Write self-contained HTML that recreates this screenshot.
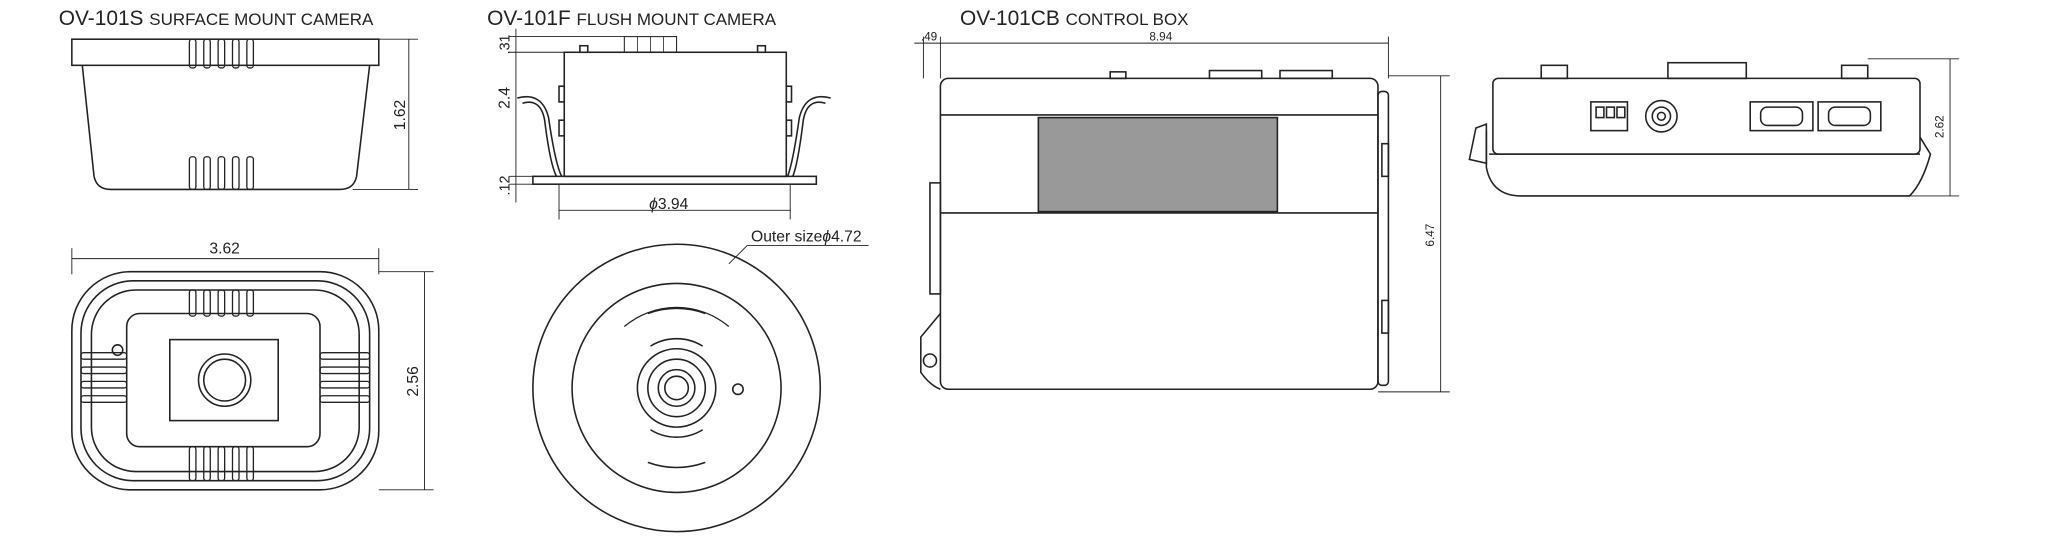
<!DOCTYPE html>
<html><head><meta charset="utf-8"><style>
html,body{margin:0;padding:0;background:#fff;}
svg{display:block;}
text{font-family:"Liberation Sans",sans-serif;fill:#222;}
</style></head><body>
<svg width="2048" height="546" viewBox="0 0 1568 418" xmlns="http://www.w3.org/2000/svg" fill="none" stroke="#222" stroke-width="1.2">
<!-- titles -->
<text x="45" y="19" font-size="16" stroke="none">OV-101S <tspan font-size="13">SURFACE MOUNT CAMERA</tspan></text>
<text x="373" y="19" font-size="16" stroke="none">OV-101F <tspan font-size="13">FLUSH MOUNT CAMERA</tspan></text>
<text x="735" y="19" font-size="16" stroke="none">OV-101CB <tspan font-size="13">CONTROL BOX</tspan></text>

<!-- Surface side view -->
<rect x="55" y="30" width="235" height="20"/>
<path d="M63 50 L72 135 Q74 145 85 145 L260 145 Q271 145 273 135 L283 50"/>
<g stroke-width="1">
<rect x="145" y="30" width="5" height="22" rx="2"/><rect x="156" y="30" width="5" height="22" rx="2"/><rect x="167" y="30" width="5" height="22" rx="2"/><rect x="178" y="30" width="5" height="22" rx="2"/><rect x="189" y="30" width="5" height="22" rx="2"/>
<rect x="145" y="120" width="5" height="25" rx="2"/><rect x="156" y="120" width="5" height="25" rx="2"/><rect x="167" y="120" width="5" height="25" rx="2"/><rect x="178" y="120" width="5" height="25" rx="2"/><rect x="189" y="120" width="5" height="25" rx="2"/>
</g>
<g stroke-width="0.7">
<line x1="290" y1="30" x2="320" y2="30"/><line x1="270" y1="145" x2="320" y2="145"/><line x1="313" y1="30" x2="313" y2="145"/>
</g>
<text x="310" y="88" font-size="12" stroke="none" transform="rotate(-90 310 88)" text-anchor="middle">1.62</text>

<!-- Surface bottom view -->
<g stroke-width="0.7">
<line x1="55" y1="198" x2="290" y2="198"/><line x1="55" y1="190" x2="55" y2="210"/><line x1="290" y1="190" x2="290" y2="210"/>
<line x1="290" y1="208" x2="332" y2="208"/><line x1="290" y1="375" x2="332" y2="375"/><line x1="325" y1="208" x2="325" y2="375"/>
</g>
<text x="172" y="194" font-size="12" stroke="none" text-anchor="middle">3.62</text>
<text x="320" y="292" font-size="12" stroke="none" transform="rotate(-90 320 292)" text-anchor="middle">2.56</text>
<rect x="55" y="208" width="235" height="167" rx="45"/>
<rect x="62" y="215" width="221" height="153" rx="40"/>
<rect x="70" y="222" width="205" height="139" rx="34"/>
<rect x="97" y="240" width="148" height="102" rx="10"/>
<rect x="130" y="260" width="83" height="62"/>
<circle cx="172" cy="291" r="20"/><circle cx="172" cy="291" r="16"/>
<circle cx="90" cy="268" r="4"/>
<g stroke-width="1">
<rect x="145" y="222" width="5" height="20" rx="2"/><rect x="156" y="222" width="5" height="20" rx="2"/><rect x="167" y="222" width="5" height="20" rx="2"/><rect x="178" y="222" width="5" height="20" rx="2"/><rect x="189" y="222" width="5" height="20" rx="2"/>
<rect x="145" y="342" width="5" height="26" rx="2"/><rect x="156" y="342" width="5" height="26" rx="2"/><rect x="167" y="342" width="5" height="26" rx="2"/><rect x="178" y="342" width="5" height="26" rx="2"/><rect x="189" y="342" width="5" height="26" rx="2"/>
<rect x="62" y="270" width="35" height="5" rx="2"/><rect x="62" y="281" width="35" height="5" rx="2"/><rect x="62" y="292" width="35" height="5" rx="2"/><rect x="62" y="303" width="35" height="5" rx="2"/>
<rect x="245" y="270" width="38" height="5" rx="2"/><rect x="245" y="281" width="38" height="5" rx="2"/><rect x="245" y="292" width="38" height="5" rx="2"/><rect x="245" y="303" width="38" height="5" rx="2"/>
</g>

<!-- Flush side view -->
<rect x="432" y="40" width="170" height="95"/>
<rect x="408" y="135" width="217" height="6"/>
<rect x="478" y="28" width="40" height="12" stroke-width="0.8"/>
<line x1="488" y1="28" x2="488" y2="40" stroke-width="0.6"/><line x1="498" y1="28" x2="498" y2="40" stroke-width="0.6"/><line x1="508" y1="28" x2="508" y2="40" stroke-width="0.6"/>
<rect x="444" y="35" width="6" height="5"/><rect x="580" y="35" width="6" height="5"/>
<rect x="428" y="66" width="4" height="12"/><rect x="428" y="92" width="4" height="12"/>
<rect x="602" y="66" width="4" height="12"/><rect x="602" y="92" width="4" height="12"/>
<path d="M396 75 Q415 70 420 90 Q425 125 430 135"/><path d="M400 79 Q414 75 417 92 Q421 125 426 135"/>
<path d="M636 75 Q617 70 612 90 Q607 125 603 135"/><path d="M632 79 Q618 75 615 92 Q611 125 607 135"/>
<g stroke-width="0.7">
<line x1="390" y1="28" x2="478" y2="28"/><line x1="390" y1="40" x2="432" y2="40"/><line x1="390" y1="135" x2="408" y2="135"/><line x1="390" y1="141" x2="408" y2="141"/>
<line x1="395" y1="22" x2="395" y2="155"/>
<line x1="428" y1="141" x2="428" y2="168"/><line x1="605" y1="141" x2="605" y2="168"/><line x1="428" y1="161" x2="605" y2="161"/>
</g>
<text x="390" y="34" font-size="11" stroke="none" transform="rotate(-90 390 34)" text-anchor="middle">.31</text>
<text x="390" y="75" font-size="12" stroke="none" transform="rotate(-90 390 75)" text-anchor="middle">2.4</text>
<text x="390" y="142" font-size="11" stroke="none" transform="rotate(-90 390 142)" text-anchor="middle">.12</text>
<text x="497" y="160" font-size="12" stroke="none"><tspan font-style="italic">ϕ</tspan>3.94</text>

<!-- Flush circle view -->
<circle cx="518" cy="297" r="110"/>
<circle cx="518" cy="297" r="80"/>
<path d="M478 250 A62 62 0 0 1 558 250 M478 344 A62 62 0 0 1 478 344" stroke-width="1"/>
<circle cx="518" cy="297" r="30"/><circle cx="518" cy="297" r="22"/><circle cx="518" cy="297" r="14"/><circle cx="518" cy="297" r="9"/>
<circle cx="565" cy="298" r="4"/>
<path d="M498 265 A38 38 0 0 1 538 265" /><path d="M498 329 A38 38 0 0 0 538 329"/>
<path d="M496 240 A64 64 0 0 1 540 240"/><path d="M496 354 A64 64 0 0 0 540 354"/>
<line x1="558" y1="202" x2="572" y2="188" stroke-width="0.7"/><line x1="572" y1="188" x2="665" y2="188" stroke-width="0.7"/>
<text x="575" y="185" font-size="12" stroke="none">Outer size<tspan font-style="italic">ϕ</tspan>4.72</text>

<!-- Control box front -->
<rect x="720" y="60" width="335" height="238" rx="6"/>
<line x1="720" y1="88" x2="1055" y2="88"/><line x1="720" y1="163" x2="1055" y2="163"/>
<rect x="795" y="90" width="183" height="72" fill="#999"/>
<rect x="926" y="54" width="40" height="6"/><rect x="980" y="54" width="40" height="6"/><rect x="850" y="55" width="12" height="5"/>
<rect x="712" y="140" width="8" height="85"/>
<rect x="1055" y="70" width="8" height="225" rx="3"/>
<rect x="1058" y="110" width="5" height="25"/><rect x="1058" y="230" width="5" height="25"/>
<path d="M720 240 L705 258 L705 285 Q712 295 720 298"/><circle cx="712" cy="276" r="5"/>
<g stroke-width="0.7">
<line x1="707" y1="28" x2="707" y2="60"/><line x1="720" y1="28" x2="720" y2="60"/><line x1="1063" y1="28" x2="1063" y2="60"/>
<line x1="700" y1="33" x2="1063" y2="33"/>
<line x1="1063" y1="58" x2="1110" y2="58"/><line x1="1055" y1="300" x2="1110" y2="300"/><line x1="1103" y1="58" x2="1103" y2="300"/>
</g>
<text x="705" y="31" font-size="9" stroke="none">.49</text>
<text x="880" y="31" font-size="9" stroke="none">8.94</text>
<text x="1098" y="180" font-size="9" stroke="none" transform="rotate(-90 1098 180)" text-anchor="middle">6.47</text>

<!-- Control box side -->
<rect x="1143" y="60" width="327" height="58" rx="4"/>
<path d="M1138 100 L1138 128 Q1142 150 1165 150 L1462 150 Q1472 140 1478 118 L1470 105"/>
<line x1="1140" y1="118" x2="1470" y2="118"/>
<path d="M1130 98 L1138 95 L1138 125 L1125 122 Z"/>
<rect x="1180" y="50" width="20" height="10"/><rect x="1410" y="50" width="20" height="10"/>
<rect x="1277" y="48" width="60" height="12"/>
<rect x="1218" y="78" width="28" height="22"/><rect x="1222" y="82" width="6" height="8"/><rect x="1230" y="82" width="6" height="8"/><rect x="1238" y="82" width="6" height="8"/>
<circle cx="1272" cy="89" r="12"/><circle cx="1272" cy="89" r="7"/><circle cx="1272" cy="89" r="3"/>
<rect x="1340" y="78" width="48" height="22"/><rect x="1348" y="82" width="32" height="14" rx="5"/>
<rect x="1392" y="78" width="48" height="22"/><rect x="1400" y="82" width="32" height="14" rx="5"/>
<g stroke-width="0.7">
<line x1="1430" y1="45" x2="1500" y2="45"/><line x1="1320" y1="150" x2="1500" y2="150"/><line x1="1493" y1="45" x2="1493" y2="150"/>
</g>
<text x="1488" y="97" font-size="9" stroke="none" transform="rotate(-90 1488 97)" text-anchor="middle">2.62</text>
</svg>
</body></html>
